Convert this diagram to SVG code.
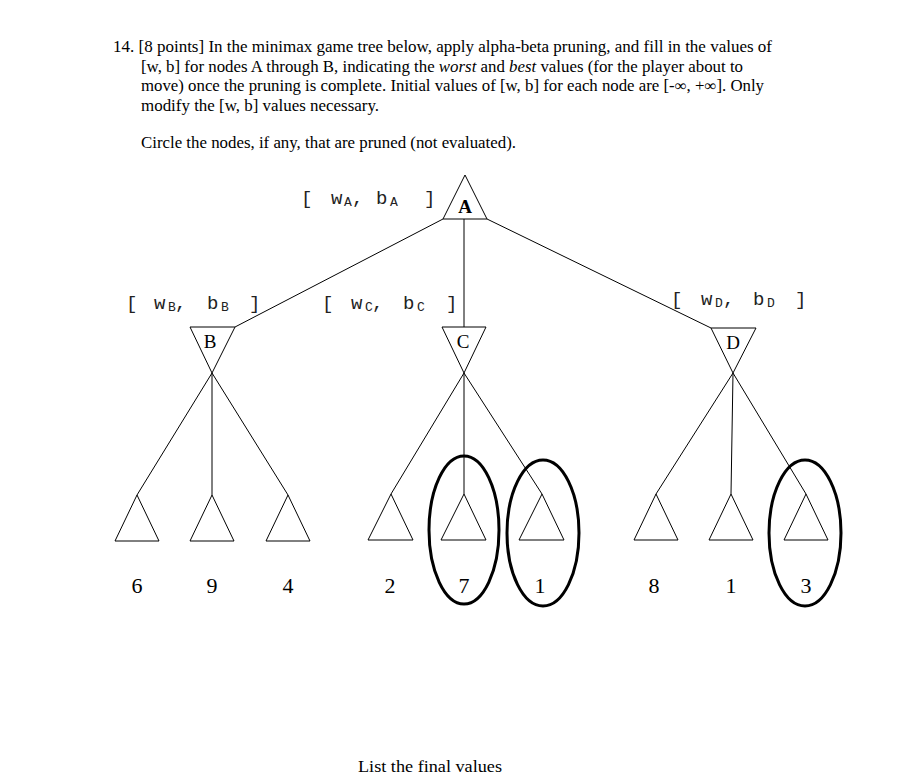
<svg xmlns="http://www.w3.org/2000/svg" width="913" height="783" viewBox="0 0 913 783">
<style>
.q{font-family:"Liberation Serif","Times New Roman",serif;font-size:16px;fill:#000}
.lbl{font-family:"Liberation Serif","Times New Roman",serif;font-size:19px;fill:#000}
.num{font-family:"Liberation Serif","Times New Roman",serif;font-size:22px;fill:#000}
.m{font-family:"Liberation Mono","Courier New",monospace;font-size:19px;fill:#222}
.s{font-family:"Liberation Mono","Courier New",monospace;font-size:13px;fill:#222}
.tri{fill:#fff;stroke:#000;stroke-width:1}
.edge{stroke:#000;stroke-width:1;fill:none}
.ring{fill:none;stroke:#000;stroke-width:3}
</style>
<rect width="913" height="783" fill="#fff"/>
<g id="question">
<text class="q" x="113" y="52" textLength="659" lengthAdjust="spacingAndGlyphs">14. [8 points]  In the minimax game tree below, apply alpha-beta pruning, and fill in the values of</text>
<text class="q" x="141" y="72" textLength="602" lengthAdjust="spacingAndGlyphs">[w, b] for nodes A through B, indicating the <tspan font-style="italic">worst</tspan> and <tspan font-style="italic">best</tspan> values (for the player about to</text>
<text class="q" x="141" y="91" textLength="623" lengthAdjust="spacingAndGlyphs">move) once the pruning is complete. Initial values of [w, b] for each node are [-∞, +∞]. Only</text>
<text class="q" x="141" y="111" textLength="238" lengthAdjust="spacingAndGlyphs">modify the [w, b] values necessary.</text>
<text class="q" x="141" y="148" textLength="375" lengthAdjust="spacingAndGlyphs">Circle the nodes, if any, that are pruned (not evaluated).</text>
</g>
<g id="connectors">
<line class="edge" x1="443" y1="219" x2="235" y2="327"/>
<line class="edge" x1="464" y1="219" x2="464" y2="327"/>
<line class="edge" x1="487" y1="219" x2="711" y2="328"/>
<line class="edge" x1="212" y1="373" x2="137" y2="495"/>
<line class="edge" x1="212" y1="373" x2="212" y2="495"/>
<line class="edge" x1="212" y1="373" x2="288" y2="495"/>
<line class="edge" x1="464" y1="373" x2="391" y2="494"/>
<line class="edge" x1="464" y1="373" x2="464" y2="494"/>
<line class="edge" x1="464" y1="373" x2="542" y2="494"/>
<line class="edge" x1="733" y1="373" x2="656" y2="494"/>
<line class="edge" x1="733" y1="373" x2="731" y2="494"/>
<line class="edge" x1="733" y1="373" x2="806" y2="494"/>
</g>
<g id="node-A">
<polygon class="tri" points="465,175 443,219 487,219"/>
<text class="lbl" x="465" y="213" text-anchor="middle" font-weight="bold">A</text>
<text class="m" x="301" y="204">[</text>
<text class="m" x="331" y="204">w</text>
<text class="s" x="344" y="206">A</text>
<text class="m" x="352" y="204">,</text>
<text class="m" x="376" y="204">b</text>
<text class="s" x="390" y="206">A</text>
<text class="m" x="424" y="204">]</text>
</g>
<g id="node-B">
<polygon class="tri" points="190,327 235,327 212,373"/>
<text class="lbl" x="210" y="348" text-anchor="middle">B</text>
<text class="m" x="126" y="309">[</text>
<text class="m" x="154" y="309">w</text>
<text class="s" x="168" y="311">B</text>
<text class="m" x="175" y="309">,</text>
<text class="m" x="207" y="309">b</text>
<text class="s" x="221" y="311">B</text>
<text class="m" x="249" y="309">]</text>
</g>
<g id="node-C">
<polygon class="tri" points="442,327 486,327 464,373"/>
<text class="lbl" x="463" y="348" text-anchor="middle">C</text>
<text class="m" x="322" y="309">[</text>
<text class="m" x="351" y="309">w</text>
<text class="s" x="365" y="311">C</text>
<text class="m" x="372" y="309">,</text>
<text class="m" x="403" y="309">b</text>
<text class="s" x="417" y="311">C</text>
<text class="m" x="446" y="309">]</text>
</g>
<g id="node-D">
<polygon class="tri" points="711,328 756,328 733,373"/>
<text class="lbl" x="733" y="349" text-anchor="middle">D</text>
<text class="m" x="671" y="305">[</text>
<text class="m" x="701" y="305">w</text>
<text class="s" x="715" y="307">D</text>
<text class="m" x="723" y="305">,</text>
<text class="m" x="753" y="305">b</text>
<text class="s" x="767" y="307">D</text>
<text class="m" x="795" y="305">]</text>
</g>
<g id="leaf-B1"><polygon class="tri" points="137,495 115,541 159,541"/><text class="num" x="137" y="593" text-anchor="middle">6</text></g>
<g id="leaf-B2"><polygon class="tri" points="212,495 190,541 234,541"/><text class="num" x="212" y="593" text-anchor="middle">9</text></g>
<g id="leaf-B3"><polygon class="tri" points="288,495 266,541 310,541"/><text class="num" x="288" y="593" text-anchor="middle">4</text></g>
<g id="leaf-C1"><polygon class="tri" points="391,494 368,540 413,540"/><text class="num" x="390" y="593" text-anchor="middle">2</text></g>
<g id="leaf-C2"><polygon class="tri" points="464,494 441,540 486,540"/><text class="num" x="464" y="593" text-anchor="middle">7</text></g>
<g id="leaf-C3"><polygon class="tri" points="542,494 519,540 564,540"/><text class="num" x="540" y="593" text-anchor="middle">1</text></g>
<g id="leaf-D1"><polygon class="tri" points="656,494 634,540 678,540"/><text class="num" x="654" y="593" text-anchor="middle">8</text></g>
<g id="leaf-D2"><polygon class="tri" points="731,494 709,540 753,540"/><text class="num" x="731" y="593" text-anchor="middle">1</text></g>
<g id="leaf-D3"><polygon class="tri" points="806,494 784,540 828,540"/><text class="num" x="806" y="593" text-anchor="middle">3</text></g>
<g id="circles">
<ellipse class="ring" cx="464" cy="530" rx="35" ry="74"/>
<ellipse class="ring" cx="543" cy="533" rx="36" ry="73"/>
<ellipse class="ring" cx="805" cy="533" rx="36" ry="73"/>
</g>
<text class="q" x="358" y="772" textLength="144" lengthAdjust="spacingAndGlyphs">List the final values</text>
</svg>
